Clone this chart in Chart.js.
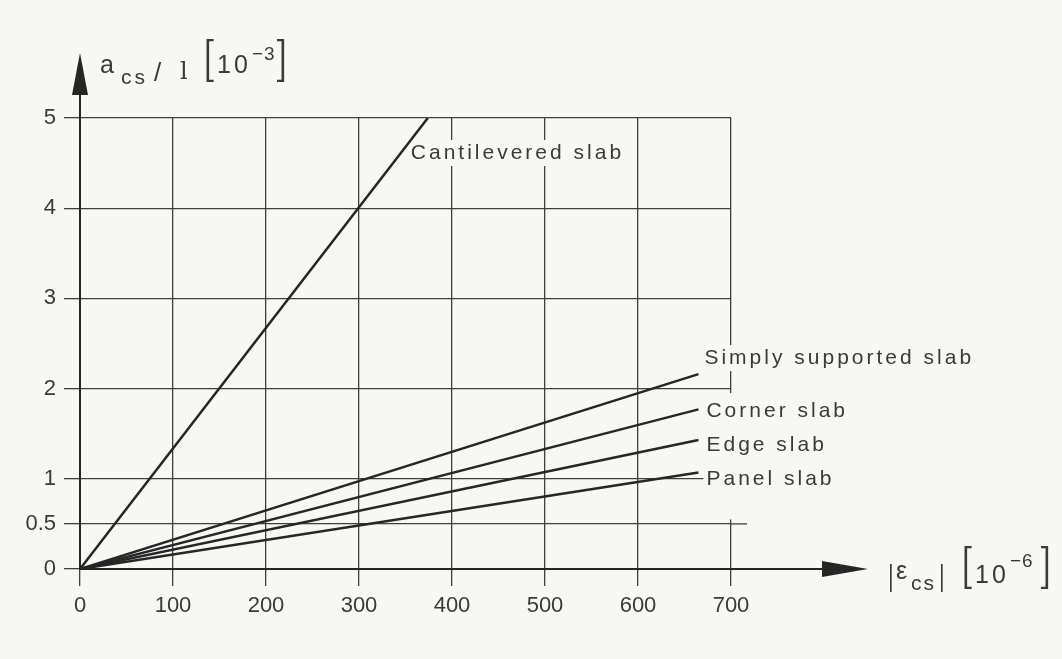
<!DOCTYPE html>
<html>
<head>
<meta charset="utf-8">
<script src="https://cdn.jsdelivr.net/npm/chart.js@4.4.1/dist/chart.umd.min.js"></script>
<style>
  html, body { margin: 0; padding: 0; background: #f7f7f4; }
  #wrap { width: 1062px; height: 659px; }
</style>
</head>
<body>
<div id="wrap"><canvas id="shrinkageChart" width="1062" height="659"></canvas></div>
<script>
// axis ticks
const xTicks = [0, 100, 200, 300, 400, 500, 600, 700];
const yTicks = [0, 0.5, 1, 2, 3, 4, 5];

// |eps_cs| [10^-6] -> a_cs/l [10^-3], straight lines from the origin
const seriesNames = ['Cantilevered slab', 'Simply supported slab', 'Corner slab', 'Edge slab', 'Panel slab'];
const cantileveredX = [0, 374];
const cantileveredY = [0, 5.0];
const simplyX = [0, 665];
const simplyY = [0, 2.16];
const cornerX = [0, 665];
const cornerY = [0, 1.77];
const edgeX = [0, 665];
const edgeY = [0, 1.43];
const panelX = [0, 665];
const panelY = [0, 1.07];

const ink = '#262626';
const gridInk = '#3f3f3f';
const textInk = '#3a3a3a';
const paper = '#f7f7f4';
const font = '"Liberation Sans", Arial, sans-serif';

function toPoints(xs, ys) {
  return xs.map((x, i) => ({ x: x, y: ys[i] }));
}

const allSeries = [
  toPoints(cantileveredX, cantileveredY),
  toPoints(simplyX, simplyY),
  toPoints(cornerX, cornerY),
  toPoints(edgeX, edgeY),
  toPoints(panelX, panelY),
];

// label offsets from each line's end point (px)
const labelOffsets = [[-17, 35], [6, -16], [8, 2], [8, 5], [8, 7]];

function spaced(ctx, text, x, y, f, spacing) {
  ctx.font = f;
  if ('letterSpacing' in ctx) ctx.letterSpacing = (spacing || 0) + 'px';
  ctx.fillText(text, x, y);
  const w = ctx.measureText(text).width;
  if ('letterSpacing' in ctx) ctx.letterSpacing = '0px';
  return w;
}

const decorations = {
  id: 'decorations',
  beforeDatasetsDraw(chart) {
    const { ctx, scales: { x, y } } = chart;
    ctx.save();
    // little overhang of the 0.5 line past 700
    ctx.strokeStyle = gridInk;
    ctx.lineWidth = 1.3;
    ctx.beginPath();
    ctx.moveTo(x.getPixelForValue(700), y.getPixelForValue(0.5));
    ctx.lineTo(x.getPixelForValue(700) + 16, y.getPixelForValue(0.5));
    ctx.stroke();
    // label masks so grid lines break behind the text
    ctx.fillStyle = paper;
    ctx.font = '21px ' + font;
    if ('letterSpacing' in ctx) ctx.letterSpacing = '3px';
    allSeries.forEach((pts, i) => {
      const end = pts[pts.length - 1];
      const lx = x.getPixelForValue(end.x) + labelOffsets[i][0];
      const ly = y.getPixelForValue(end.y) + labelOffsets[i][1];
      const w = ctx.measureText(seriesNames[i]).width;
      ctx.fillRect(lx - 3, ly - 13, w + 6, 26);
    });
    if ('letterSpacing' in ctx) ctx.letterSpacing = '0px';
    const px700 = x.getPixelForValue(700);
    ctx.fillRect(px700 - 5, y.getPixelForValue(1.95), 10, y.getPixelForValue(0.55) - y.getPixelForValue(1.95));
    ctx.restore();
  },
  afterDatasetsDraw(chart) {
    const { ctx, scales: { x, y } } = chart;
    ctx.save();
    ctx.fillStyle = textInk;
    ctx.textBaseline = 'middle';
    ctx.textAlign = 'left';
    allSeries.forEach((pts, i) => {
      const end = pts[pts.length - 1];
      const lx = x.getPixelForValue(end.x) + labelOffsets[i][0];
      const ly = y.getPixelForValue(end.y) + labelOffsets[i][1];
      spaced(ctx, seriesNames[i], lx, ly, '21px ' + font, 3);
    });

    // axes with arrows
    const x0 = x.getPixelForValue(0);
    const y0 = y.getPixelForValue(0);
    ctx.strokeStyle = ink;
    ctx.fillStyle = ink;
    ctx.lineWidth = 2;
    ctx.beginPath();
    ctx.moveTo(x0, y0);
    ctx.lineTo(x0, 92);
    ctx.moveTo(x0, y0);
    ctx.lineTo(826, y0);
    ctx.stroke();
    ctx.beginPath();
    ctx.moveTo(x0, 53);
    ctx.lineTo(x0 - 8, 95);
    ctx.lineTo(x0 + 8, 95);
    ctx.closePath();
    ctx.fill();
    ctx.beginPath();
    ctx.moveTo(868, y0);
    ctx.lineTo(822, y0 - 8);
    ctx.lineTo(822, y0 + 8);
    ctx.closePath();
    ctx.fill();

    // axis titles
    ctx.fillStyle = textInk;
    ctx.textBaseline = 'alphabetic';
    spaced(ctx, 'a', 100, 73, '25px ' + font, 0);
    spaced(ctx, 'cs', 121, 84, '21px ' + font, 3);
    spaced(ctx, '/', 154, 81, '26px ' + font, 0);
    spaced(ctx, 'l', 180, 79, '24px "DejaVu Serif", serif', 0);
    spaced(ctx, '[', 203, 75, '300 44px Roboto, ' + font, 0);
    spaced(ctx, '10', 217, 73, '25px ' + font, 3);
    spaced(ctx, '\u22123', 252, 60, '19px ' + font, 1);
    spaced(ctx, ']', 277, 75, '300 44px Roboto, ' + font, 0);

    spaced(ctx, '|', 887, 588, '300 34px Roboto, ' + font, 0);
    spaced(ctx, '\u03b5', 896, 579, '25px ' + font, 0);
    spaced(ctx, 'cs', 911, 590, '21px ' + font, 2);
    spaced(ctx, '|', 938, 588, '300 34px Roboto, ' + font, 0);
    spaced(ctx, '[', 961, 582, '300 44px Roboto, ' + font, 0);
    spaced(ctx, '10', 975, 583, '25px ' + font, 3);
    spaced(ctx, '\u22126', 1010, 567, '19px ' + font, 1);
    spaced(ctx, ']', 1041, 582, '300 44px Roboto, ' + font, 0);
    ctx.restore();
  },
};

const ctx = document.getElementById('shrinkageChart').getContext('2d');
const chart = new Chart(ctx, {
  type: 'scatter',
  data: {
    datasets: allSeries.map((pts, i) => ({
      label: seriesNames[i],
      data: pts,
      showLine: true,
      borderColor: ink,
      borderWidth: 2.5,
      pointRadius: 0,
      fill: false,
    })),
  },
  options: {
    responsive: false,
    devicePixelRatio: 1,
    animation: false,
    layout: { padding: { left: 0, top: 118, right: 331, bottom: 0 } },
    plugins: {
      legend: { display: false },
      tooltip: { enabled: false },
    },
    scales: {
      x: {
        type: 'linear',
        min: 0,
        max: 700,
        afterBuildTicks: (scale) => { scale.ticks = xTicks.map((v) => ({ value: v })); },
        afterFit: (scale) => { scale.height = 90; },
        grid: { color: gridInk, lineWidth: 1.3, tickLength: 17, drawTicks: true },
        border: { display: true, color: ink, width: 2 },
        ticks: { color: textInk, font: { family: font, size: 22 }, padding: 7, maxRotation: 0,
          callback: (v) => String(v) },
      },
      y: {
        type: 'linear',
        min: 0,
        max: 5,
        afterBuildTicks: (scale) => { scale.ticks = yTicks.map((v) => ({ value: v })); },
        afterFit: (scale) => { scale.width = 80; },
        grid: { color: gridInk, lineWidth: 1.3, tickLength: 16, drawTicks: true },
        border: { display: true, color: ink, width: 2 },
        ticks: { color: textInk, font: { family: font, size: 22 }, padding: 8,
          callback: (v) => String(v) },
      },
    },
  },
  plugins: [decorations],
});
</script>
</body>
</html>
